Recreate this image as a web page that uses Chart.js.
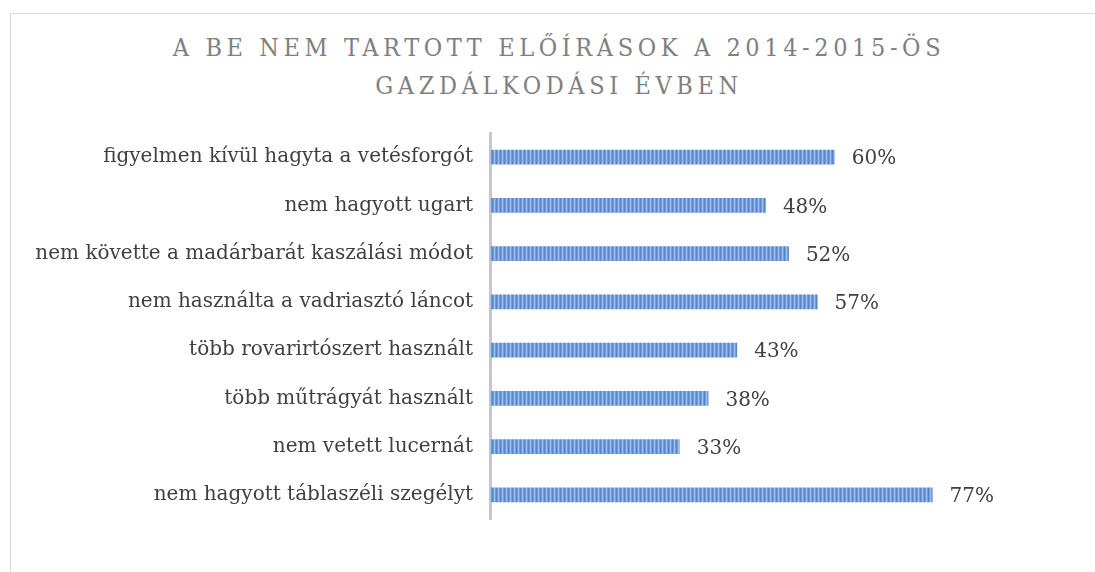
<!DOCTYPE html>
<html>
<head>
<meta charset="utf-8">
<script src="https://cdn.jsdelivr.net/npm/chart.js@4/dist/chart.umd.min.js"></script>
<style>
  html, body { margin: 0; padding: 0; background: #fff; }
  #wrap { position: relative; width: 1095px; height: 572px; overflow: hidden; }
  #frame { position: absolute; left: 10px; top: 13px; width: 1200px; height: 700px; border: 1px solid #d9d9d9; }
  #title { position: absolute; left: 0; top: 29px; width: 1118px; text-align: center;
    font-family: "DejaVu Serif Condensed", "DejaVu Serif", serif; font-size: 25px; line-height: 38px;
    letter-spacing: 4.6px; color: #7f7f7f; }
  canvas { position: absolute; left: 0; top: 0; }
</style>
</head>
<body>
<div id="wrap">
  <div id="frame"></div>
  <div id="title">A BE NEM TARTOTT ELŐÍRÁSOK A 2014-2015-ÖS<br>GAZDÁLKODÁSI ÉVBEN</div>
  <canvas id="myChart" width="1095" height="572"></canvas>
</div>
<script>
const kategoriak = [
  'figyelmen kívül hagyta a vetésforgót',
  'nem hagyott ugart',
  'nem követte a madárbarát kaszálási módot',
  'nem használta a vadriasztó láncot',
  'több rovarirtószert használt',
  'több műtrágyát használt',
  'nem vetett lucernát',
  'nem hagyott táblaszéli szegélyt'
];
const ertekek = [60, 48, 52, 57, 43, 38, 33, 77];

// csíkos minta a sávokhoz
function csikosMinta() {
  const c = document.createElement('canvas');
  c.width = 4; c.height = 4;
  const x = c.getContext('2d');
  const szinek = ['#5783c9', '#769dd9', '#a2bfe8', '#769dd9'];
  szinek.forEach((s, i) => { x.fillStyle = s; x.fillRect(i, 0, 1, 4); });
  return x.createPattern(c, 'repeat');
}

const cimkek = {
  id: 'cimkek',
  afterDatasetsDraw(chart) {
    const ctx = chart.ctx;
    const meta = chart.getDatasetMeta(0);
    ctx.save();
    ctx.font = '20px "DejaVu Serif", serif';
    ctx.fillStyle = '#404040';
    ctx.textBaseline = 'middle';
    meta.data.forEach((bar, i) => {
      ctx.fillText(ertekek[i] + '%', bar.x + 17, bar.y + 2);
    });
    ctx.restore();
  }
};

const ctx = document.getElementById('myChart').getContext('2d');
const myChart = new Chart(ctx, {
  type: 'bar',
  data: {
    labels: kategoriak,
    datasets: [{
      data: ertekek,
      backgroundColor: csikosMinta(),
      borderWidth: 0,
      barPercentage: 0.31,
      categoryPercentage: 1
    }]
  },
  options: {
    indexAxis: 'y',
    responsive: false,
    animation: false,
    layout: { padding: { left: 0, right: 90, top: 133, bottom: 53 } },
    plugins: { legend: { display: false }, tooltip: { enabled: false }, title: { display: false } },
    scales: {
      x: { display: false, min: 0, max: 89.6 },
      y: {
        grid: { display: false },
        border: { color: '#c8c8c8', width: 3 },
        ticks: { color: '#404040', padding: 9, font: { family: '"DejaVu Serif", serif', size: 20 } },
        afterFit(scale) { scale.width = 490; }
      }
    }
  },
  plugins: [cimkek]
});
</script>
</body>
</html>
